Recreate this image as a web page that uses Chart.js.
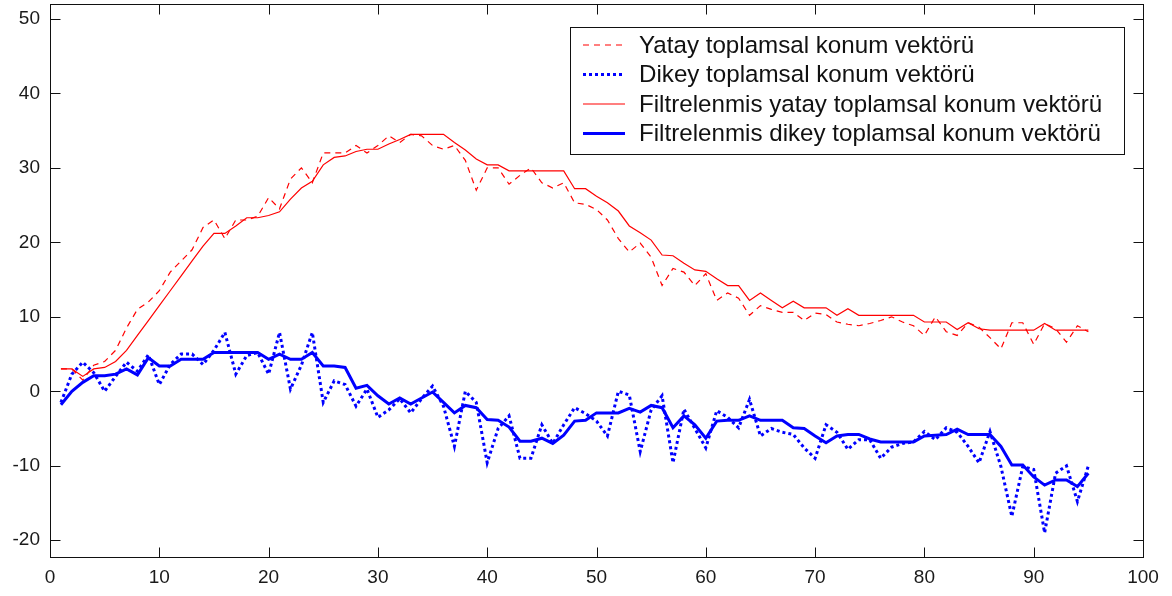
<!DOCTYPE html>
<html>
<head>
<meta charset="utf-8">
<title>Toplamsal konum vektorleri</title>
<script src="https://cdn.jsdelivr.net/npm/chart.js@4.4.0/dist/chart.umd.min.js"></script>
<style>
    body { margin: 0; background: #fff; }
    #wrap { width: 1172px; height: 596px; }
</style>
</head>
<body>
<div id="wrap"><canvas id="myChart" width="1172" height="596"></canvas></div>
<script>
// values, sample 1..95
var yatay = [3, 3, 1.5, 3.5, 4, 5.5, 8.5, 11, 12, 13.5,
    16, 17.5, 19, 22, 23, 20.5, 23, 23, 23.5, 26,
    24.5, 28.5, 30, 28, 32, 32, 32, 33, 32, 33,
    34.3, 33.4, 34.5, 34.3, 33, 32.5, 33, 31, 27, 30,
    30, 27.8, 29, 30, 28, 27.3, 28, 25.3, 25.1, 24.4,
    23, 20.5, 18.7, 19.9, 18, 14.2, 16.5, 16, 14.2, 15.8,
    12.2, 13.2, 12.5, 10.2, 11.5, 11, 10.6, 10.6, 9.5, 10.5,
    10.3, 9.3, 9, 8.8, 9.1, 9.5, 10, 9.3, 8.8, 7.5,
    10, 8, 7.5, 9.2, 8.6, 7.2, 5.7, 9.2, 9.2, 6.3,
    9.1, 8.4, 6.6, 8.8, 8];

var dikey = [-1.5, 2.3, 3.9, 2.5, 0, 2, 3.9, 2.7, 4.9, 0.9,
    3.6, 5, 5, 3.6, 5.5, 7.9, 2.3, 4.8, 5.2, 2.3,
    7.9, 0.3, 3.5, 7.9, -1.5, 1.4, 0.9, -2, 0.3, -3.5,
    -2.5, -1, -2.9, -1, 0.7, -2, -7.4, 0, -1.5, -9.6,
    -5, -3.3, -9, -9, -4.5, -7, -4.5, -2.2, -3, -4,
    -6, 0, -0.5, -8.1, -2.5, -0.6, -9.6, -2.4, -5, -7.6,
    -2.6, -3.5, -4.9, -1.1, -6, -5, -5.5, -5.8, -7.6, -9,
    -4.5, -5.5, -7.8, -6.5, -6.5, -9, -7.5, -7, -6.8, -5.4,
    -6.5, -4.9, -5.5, -7.4, -9.6, -5.4, -10.1, -16.8, -10.1, -10.5,
    -19, -11, -10, -14.8, -10];

var yatayFiltre = [3, 3, 2, 3, 3.2, 4, 5.5, 7.5, 9.5, 11.5,
    13.5, 15.5, 17.5, 19.5, 21.2, 21.2, 22.2, 23.3, 23.3, 23.6,
    24.1, 25.8, 27.3, 28.2, 30.4, 31.4, 31.6, 32.2, 32.5, 32.5,
    33.2, 33.8, 34.5, 34.5, 34.5, 34.5, 33.4, 32.4, 31.2, 30.4,
    30.4, 29.6, 29.6, 29.6, 29.6, 29.6, 29.6, 27.2, 27.2, 26.2,
    25.3, 24.2, 22.2, 21.3, 20.3, 18.3, 18.2, 17.2, 16.3, 16.1,
    15.1, 14.2, 14.2, 12.2, 13.2, 12.2, 11.2, 12.1, 11.2, 11.2,
    11.2, 10.2, 11.1, 10.2, 10.2, 10.2, 10.2, 10.2, 10.2, 9.3,
    9.3, 9.3, 8.3, 9.2, 8.4, 8.2, 8.2, 8.2, 8.2, 8.2,
    9.1, 8.2, 8.2, 8.2, 8.2];

var dikeyFiltre = [-1.8, 0, 1.2, 2.1, 2.1, 2.3, 3, 2.2, 4.5, 3.4,
    3.4, 4.3, 4.3, 4.3, 5.2, 5.2, 5.2, 5.2, 5.2, 4.3,
    5, 4.3, 4.3, 5.2, 3.4, 3.4, 3.2, 0.4, 0.8, -0.6,
    -1.7, -0.9, -1.7, -0.9, -0.1, -1.5, -2.9, -1.9, -2.2, -3.8,
    -3.9, -4.8, -6.7, -6.7, -6.3, -7, -5.9, -4, -3.9, -2.9,
    -2.9, -2.9, -2.3, -2.8, -1.9, -2.2, -4.9, -3.3, -4.5, -6.3,
    -4, -3.9, -3.9, -3.3, -3.9, -3.9, -3.9, -4.9, -5, -6,
    -6.9, -6, -5.8, -5.8, -6.4, -6.8, -6.8, -6.8, -6.8, -6,
    -5.9, -5.8, -5.1, -5.8, -5.8, -5.8, -7.4, -9.9, -9.9, -11.5,
    -12.6, -11.9, -11.9, -12.8, -11];

var xTicks = [0, 10, 20, 30, 40, 50, 60, 70, 80, 90, 100];
var yTicks = [-20, -10, 0, 10, 20, 30, 40, 50];

var seriesNames = [
    "Yatay toplamsal konum vektörü",
    "Dikey toplamsal konum vektörü",
    "Filtrelenmis yatay toplamsal konum vektörü",
    "Filtrelenmis dikey toplamsal konum vektörü"
];

// sample number on x, value on y
function toPoints(arr) {
    return arr.map(function (v, i) { return { x: i + 1, y: v }; });
}

var fontName = "'Liberation Sans', Arial, sans-serif";

// box around the axes with matlab style inward ticks
var framePlugin = {
    id: 'frame',
    afterDraw: function (chart) {
        var ctx = chart.ctx;
        var a = chart.chartArea;
        var xs = chart.scales.x;
        var ys = chart.scales.y;
        var L = Math.round(a.left) + 0.5, R = Math.round(a.right) + 0.5;
        var T = Math.round(a.top) + 0.5, B = Math.round(a.bottom) + 0.5;
        ctx.save();
        ctx.strokeStyle = '#111';
        ctx.lineWidth = 1;
        ctx.setLineDash([]);
        ctx.strokeRect(L, T, R - L, B - T);
        ctx.beginPath();
        xTicks.forEach(function (v) {
            var px = Math.round(xs.getPixelForValue(v)) + 0.5;
            ctx.moveTo(px, B); ctx.lineTo(px, B - 10);
            ctx.moveTo(px, T); ctx.lineTo(px, T + 10);
        });
        yTicks.forEach(function (v) {
            var py = Math.round(ys.getPixelForValue(v)) + 0.5;
            ctx.moveTo(L, py); ctx.lineTo(L + 10, py);
            ctx.moveTo(R, py); ctx.lineTo(R - 10, py);
        });
        ctx.stroke();
        ctx.restore();
    }
};

// legend box inside the plot, upper right
var boxLegend = {
    id: 'boxLegend',
    afterDraw: function (chart) {
        var ctx = chart.ctx;
        var box = { left: 570, top: 27, right: 1124, bottom: 154 };
        var rows = [45, 74.5, 104, 133.5];
        ctx.save();
        ctx.fillStyle = '#fff';
        ctx.fillRect(box.left, box.top, box.right - box.left, box.bottom - box.top);
        ctx.strokeStyle = '#111';
        ctx.lineWidth = 1;
        ctx.setLineDash([]);
        ctx.strokeRect(box.left + 0.5, box.top + 0.5, box.right - box.left, box.bottom - box.top);

        // pick a font size so the longest label is as wide as in the picture
        var size = 20;
        ctx.font = size + 'px ' + fontName;
        var w = ctx.measureText(seriesNames[3]).width;
        size = size * 462 / w;
        ctx.font = size.toFixed(2) + 'px ' + fontName;
        ctx.textBaseline = 'middle';
        ctx.textAlign = 'left';

        chart.data.datasets.forEach(function (ds, i) {
            var y = rows[i];
            ctx.beginPath();
            ctx.strokeStyle = ds.borderColor;
            ctx.lineWidth = ds.borderWidth;
            ctx.lineCap = 'butt';
            ctx.setLineDash(ds.borderDash || []);
            ctx.moveTo(583, y);
            ctx.lineTo(625, y);
            ctx.stroke();
            ctx.setLineDash([]);
            ctx.fillStyle = '#111';
            ctx.fillText(ds.label, 639, y + 1);
        });
        ctx.restore();
    }
};

var ctx = document.getElementById('myChart').getContext('2d');
var myChart = new Chart(ctx, {
    type: 'line',
    data: {
        datasets: [{
            label: seriesNames[0],
            data: toPoints(yatay),
            borderColor: '#ff0000',
            borderWidth: 1.2,
            borderDash: [6, 5],
            order: 3
        }, {
            label: seriesNames[1],
            data: toPoints(dikey),
            borderColor: '#0000ff',
            borderWidth: 3,
            borderDash: [3, 3],
            order: 2
        }, {
            label: seriesNames[2],
            data: toPoints(yatayFiltre),
            borderColor: '#ff0000',
            borderWidth: 1.2,
            order: 1
        }, {
            label: seriesNames[3],
            data: toPoints(dikeyFiltre),
            borderColor: '#0000ff',
            borderWidth: 3,
            order: 0
        }]
    },
    options: {
        responsive: false,
        animation: false,
        devicePixelRatio: 1,
        layout: { padding: { left: 0, right: 29, top: 4, bottom: 0 } },
        elements: {
            point: { radius: 0 },
            line: { tension: 0, fill: false, borderCapStyle: 'butt' }
        },
        plugins: {
            legend: { display: false },
            tooltip: { enabled: false }
        },
        scales: {
            x: {
                type: 'linear',
                min: 0,
                max: 100,
                grid: { display: false, drawTicks: false },
                border: { display: false },
                afterBuildTicks: function (scale) {
                    scale.ticks = xTicks.map(function (v) { return { value: v }; });
                },
                afterFit: function (scale) {
                    scale.height = 39;
                    scale.paddingLeft = 0;
                    scale.paddingRight = 0;
                },
                ticks: {
                    padding: 9,
                    color: '#1a1a1a',
                    font: { family: fontName, size: 19 },
                    maxRotation: 0
                }
            },
            y: {
                type: 'linear',
                min: -22.25,
                max: 52,
                grid: { display: false, drawTicks: false },
                border: { display: false },
                afterBuildTicks: function (scale) {
                    scale.ticks = yTicks.map(function (v) { return { value: v }; });
                },
                afterFit: function (scale) {
                    scale.width = 50;
                    scale.paddingTop = 0;
                    scale.paddingBottom = 0;
                },
                ticks: {
                    padding: 10,
                    color: '#1a1a1a',
                    font: { family: fontName, size: 19 }
                }
            }
        }
    },
    plugins: [framePlugin, boxLegend]
});
</script>
</body>
</html>
